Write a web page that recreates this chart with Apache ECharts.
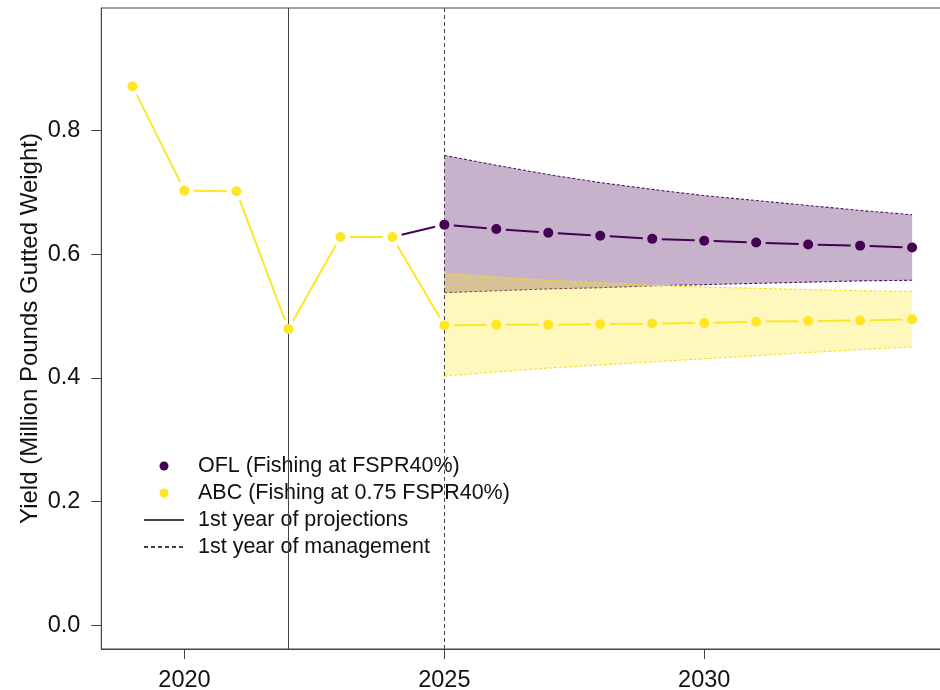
<!DOCTYPE html>
<html><head><meta charset="utf-8">
<script src="https://cdn.jsdelivr.net/npm/echarts@6/dist/echarts.min.js"></script>
<style>html,body{margin:0;padding:0;background:#fff}#c{width:940px;height:690px}</style>
</head><body><div id="c"></div>
<script>
// ---- data ----
const abcYears = [2019,2020,2021,2022,2023,2024,2025,2026,2027,2028,2029,2030,2031,2032,2033,2034];
const abcValues = [0.872,0.703,0.702,0.479,0.628,0.628,0.485,0.486,0.486,0.487,0.488,0.489,0.491,0.492,0.493,0.495];
const oflYears = [2024,2025,2026,2027,2028,2029,2030,2031,2032,2033,2034];
const oflValues = [0.628,0.648,0.641,0.635,0.630,0.625,0.622,0.619,0.616,0.614,0.611];
const projYears = [2025,2026,2027,2028,2029,2030,2031,2032,2033,2034];
const oflUpper = [0.760,0.744,0.729,0.716,0.705,0.695,0.687,0.679,0.671,0.664];
const oflLower = [0.538,0.541,0.544,0.546,0.549,0.551,0.553,0.555,0.557,0.558];
const abcUpper = [0.569,0.563,0.558,0.554,0.550,0.547,0.545,0.543,0.541,0.540];
const abcLower = [0.403,0.410,0.416,0.421,0.426,0.431,0.436,0.441,0.446,0.450];
const xTicks = [2020,2025,2030];
const yTicks = [0,0.2,0.4,0.6,0.8];
const projectionYear = 2022;
const managementYear = 2025;
const oflName = 'OFL (Fishing at FSPR40%)';
const abcName = 'ABC (Fishing at 0.75 FSPR40%)';
const projName = '1st year of projections';
const mgmtName = '1st year of management';
const yTitle = 'Yield (Million Pounds Gutted Weight)';

// ---- styles ----
const FONT = '"Liberation Sans", Arial, Helvetica, sans-serif';
const PURPLE = '#440154';
const YELLOW = '#FDE725';
const AXIS = '#444';

function pairs(xs, ys){ return xs.map((x,i)=>[x, ys[i]]); }

function segRenderer(xs, ys, color, gap){
  return function(params, api){
    const i = params.dataIndex;
    if (i >= xs.length - 1) return null;
    const p0 = api.coord([xs[i], ys[i]]);
    const p1 = api.coord([xs[i+1], ys[i+1]]);
    const dx = p1[0]-p0[0], dy = p1[1]-p0[1];
    const len = Math.hypot(dx, dy);
    if (len <= 2*gap) return null;
    const ux = dx/len, uy = dy/len;
    return {type:'line', shape:{x1:p0[0]+ux*gap, y1:p0[1]+uy*gap, x2:p1[0]-ux*gap, y2:p1[1]-uy*gap},
      style:{stroke:color, lineWidth:2}};
  };
}

function bandRenderer(xs, lo, hi, fill, stroke){
  return function(params, api){
    if (params.dataIndex !== 0) return null;
    const up = xs.map((x,i)=>api.coord([x, hi[i]]));
    const dn = xs.map((x,i)=>api.coord([x, lo[i]]));
    const poly = up.concat(dn.slice().reverse());
    return {type:'group', children:[
      {type:'polygon', shape:{points:poly}, style:{fill:fill, stroke:null}},
      {type:'polyline', shape:{points:up}, style:{fill:null, stroke:stroke, lineWidth:1.1, lineDash:[3,2]}},
      {type:'polyline', shape:{points:dn}, style:{fill:null, stroke:stroke, lineWidth:1.1, lineDash:[3,2]}}
    ]};
  };
}

const chart = echarts.init(document.getElementById('c'), null, {renderer:'canvas'});
chart.setOption({
  animation:false,
  backgroundColor:'#fff',
  textStyle:{fontFamily:FONT},
  grid:{left:101.3, width:842, top:8, bottom:41, outerBoundsMode:'none', containLabel:false,
    show:true, borderColor:AXIS, borderWidth:1, backgroundColor:'transparent'},
  xAxis:{
    type:'value', min:2018.4, max:2034.6,
    axisLine:{show:true, onZero:false, lineStyle:{color:AXIS, width:1}},
    axisTick:{show:true, length:10, customValues:xTicks, lineStyle:{color:AXIS}},
    axisLabel:{show:true, customValues:xTicks, fontSize:23.5, color:'#111', fontFamily:FONT, margin:20,
      formatter:v=>String(v)},
    splitLine:{show:false}
  },
  yAxis:{
    type:'value', min:-0.0384, max:0.9984,
    name:yTitle, nameLocation:'middle', nameGap:59, nameMoveOverlap:false,
    nameTextStyle:{fontSize:24, color:'#111', fontFamily:FONT},
    axisLine:{show:true, onZero:false, lineStyle:{color:AXIS, width:1}},
    axisTick:{show:true, length:10, customValues:yTicks, lineStyle:{color:AXIS}},
    axisLabel:{show:true, customValues:yTicks, fontSize:23.5, color:'#111', fontFamily:FONT, margin:21,
      formatter:v=>Number(v).toFixed(1)},
    splitLine:{show:false}
  },
  legend:{
    orient:'vertical', left:138, top:450, itemWidth:40, itemHeight:9, itemGap:5,
    selectedMode:false,
    data:[{name:oflName, icon:'circle'},{name:abcName, icon:'circle'},
      {name:projName, itemStyle:{opacity:0}}, {name:mgmtName, itemStyle:{opacity:0}}],
    textStyle:{fontSize:21.5, color:'#111', fontFamily:FONT, padding:[0,0,0,9]}
  },
  series:[
    {type:'custom', name:'oflBand', silent:true, z:1,
      renderItem:bandRenderer(projYears, oflLower, oflUpper, 'rgba(68,1,84,0.3)', 'rgba(68,1,84,0.9)'),
      data:pairs(projYears, oflUpper), encode:{x:0,y:1}},
    {type:'custom', name:'abcBand', silent:true, z:2,
      renderItem:bandRenderer(projYears, abcLower, abcUpper, 'rgba(253,231,37,0.3)', 'rgba(245,220,30,0.95)'),
      data:pairs(projYears, abcUpper), encode:{x:0,y:1}},
    {type:'custom', name:'oflLine', silent:true, z:3,
      renderItem:segRenderer(oflYears, oflValues, PURPLE, 9.5),
      data:pairs(oflYears, oflValues), encode:{x:0,y:1}},
    {type:'custom', name:'abcLine', silent:true, z:3,
      renderItem:segRenderer(abcYears, abcValues, YELLOW, 9.5),
      data:pairs(abcYears, abcValues), encode:{x:0,y:1}},
    {type:'line', name:projName, data:[], symbol:'none', color:AXIS, z:5,
      lineStyle:{color:AXIS, width:1, type:'solid'},
      markLine:{silent:true, symbol:['none','none'], label:{show:false},
        lineStyle:{color:AXIS, width:1, type:'solid'}, data:[{xAxis:projectionYear}]}},
    {type:'line', name:mgmtName, data:[], symbol:'none', color:AXIS, z:5,
      lineStyle:{color:AXIS, width:1, type:[4,3]},
      markLine:{silent:true, symbol:['none','none'], label:{show:false},
        lineStyle:{color:AXIS, width:1, type:[4,3]}, data:[{xAxis:managementYear}]}},
    {type:'scatter', name:oflName, z:6, symbol:'circle', symbolSize:10,
      itemStyle:{color:PURPLE, opacity:1}, data:pairs(oflYears.slice(1), oflValues.slice(1))},
    {type:'scatter', name:abcName, z:7, symbol:'circle', symbolSize:10,
      itemStyle:{color:YELLOW, opacity:1}, data:pairs(abcYears, abcValues)}
  ]
});
</script>
</body></html>
